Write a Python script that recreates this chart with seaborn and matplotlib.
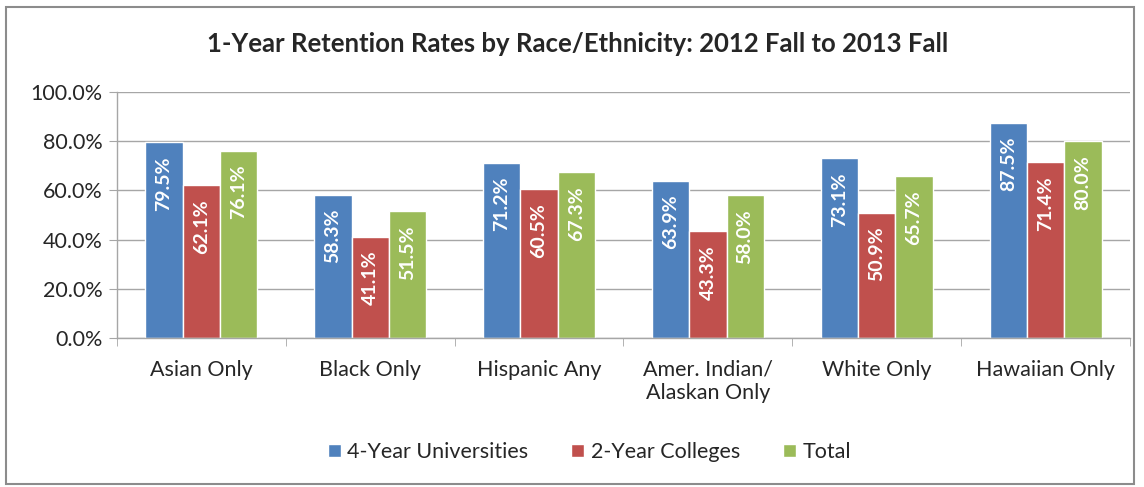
import numpy as np
import pandas as pd
import matplotlib
matplotlib.use("Agg")
import matplotlib.pyplot as plt
import matplotlib.ticker as mticker
from matplotlib.patches import Rectangle
import seaborn as sns

# Data
groups = ["Asian Only", "Black Only", "Hispanic Any", "Amer. Indian/\nAlaskan Only", "White Only", "Hawaiian Only"]
series = ["4-Year Universities", "2-Year Colleges", "Total"]
univ_4yr = [79.5, 58.3, 71.2, 63.9, 73.1, 87.5]
college_2yr = [62.1, 41.1, 60.5, 43.3, 50.9, 71.4]
total = [76.1, 51.5, 67.3, 58.0, 65.7, 80.0]
colors = ["#4F81BD", "#C0504D", "#9BBB59"]

df = pd.DataFrame({
    "group": groups * 3,
    "series": np.repeat(series, len(groups)),
    "rate": univ_4yr + college_2yr + total,
})

sns.set_style("white")
plt.rcParams["font.family"] = ["Lato", "DejaVu Sans"]

fig = plt.figure(figsize=(11.44, 4.87), dpi=100)
ax = fig.add_axes([0.102, 0.306, 0.886, 0.505])

sns.barplot(data=df, x="group", y="rate", hue="series", palette=colors,
            width=0.66, saturation=1, ax=ax, legend=True)

# value labels inside the bar tops, rotated
for bar in ax.patches:
    h = bar.get_height()
    if h <= 0:
        continue
    ax.annotate(f"{h:.1f}%", (bar.get_x() + bar.get_width() / 2, h),
                xytext=(0, -10), textcoords="offset points",
                ha="center", va="top", rotation=90,
                color="white", fontsize=14, fontweight="bold")

ax.set_ylim(0, 100)
ax.set_xlim(-0.5, len(groups) - 0.5)
ax.yaxis.set_major_locator(mticker.MultipleLocator(20))
ax.yaxis.set_major_formatter(mticker.FuncFormatter(lambda v, _: f"{v:.1f}%"))
ax.grid(axis="y", color="#A6A6A6", linewidth=1)
ax.set_axisbelow(True)
ax.set_xlabel("")
ax.set_ylabel("")

for side in ["top", "right"]:
    ax.spines[side].set_visible(False)
for side in ["left", "bottom"]:
    ax.spines[side].set_color("#A6A6A6")
    ax.spines[side].set_linewidth(1)

ax.tick_params(axis="y", left=True, length=6, color="#A6A6A6", labelsize=15.5, pad=4)
ax.tick_params(axis="x", which="major", bottom=False, labelsize=15.5, pad=12)
ax.set_xticks(np.arange(-0.5, len(groups)), minor=True)
ax.tick_params(axis="x", which="minor", bottom=True, length=6, color="#A6A6A6")

handles, labels = ax.get_legend_handles_labels()
ax.legend(handles, labels, loc="center", bbox_to_anchor=(0.515, 0.072),
          bbox_transform=fig.transFigure, ncol=3, frameon=False,
          handlelength=0.6, handleheight=0.6, handletextpad=0.3,
          columnspacing=2.0, fontsize=15.5)

fig.suptitle("1-Year Retention Rates by Race/Ethnicity: 2012 Fall to 2013 Fall",
             x=0.505, y=0.935, fontsize=18.5, fontweight="bold")

fig.patches.append(Rectangle((0.005, 0.006), 0.986, 0.98, transform=fig.transFigure,
                             fill=False, edgecolor="#8C8C8C", linewidth=1.5))

fig.savefig("out.png", dpi=100)
